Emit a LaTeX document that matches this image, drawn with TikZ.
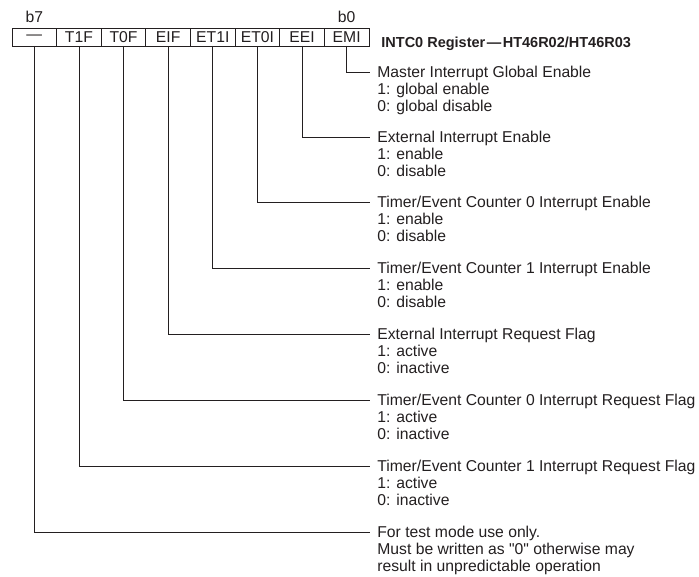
\documentclass[tikz,border=0pt]{standalone}
\usepackage{fontspec}
\newfontfamily\regfont{Liberation Sans}
\usetikzlibrary{positioning}
\definecolor{ink}{RGB}{35,31,32}
\newcommand\linegap{\rule{0pt}{16.5pt}}
\newcommand\txtsize{\regfont\fontsize{15.7}{16.5}\selectfont}

\begin{document}
\begin{tikzpicture}[x=1pt,y=-1pt,line width=0.8pt,draw=ink,text=ink,
  cell/.style={draw,minimum width=44.625pt,minimum height=18pt,inner sep=0pt,outer sep=0pt,font=\txtsize},
  bitno/.style={inner sep=0pt,text depth=0pt,font=\txtsize},
  head/.style={inner sep=0pt,anchor=base west,font=\regfont\fontsize{14.5}{16}\selectfont\bfseries},
  title/.style={anchor=west,inner xsep=7pt,inner ysep=0pt,text height=11pt,text depth=0pt,font=\txtsize},
  sub/.style={anchor=north west,inner xsep=7pt,inner ysep=0pt,align=left,font=\txtsize}]
\useasboundingbox (0,0) rectangle (699,577);

% register bits
\node[cell] (c7) at (34.3,37) {—};
\node[cell,right=0pt of c7] (c6) {T1F};
\node[cell,right=0pt of c6] (c5) {T0F};
\node[cell,right=0pt of c5] (c4) {EIF};
\node[cell,right=0pt of c4] (c3) {ET1I};
\node[cell,right=0pt of c3] (c2) {ET0I};
\node[cell,right=0pt of c2] (c1) {EEI};
\node[cell,right=0pt of c1] (c0) {EMI};
\node[bitno,above=5pt of c7] (b7) {b7};
\node[bitno,above=5pt of c0] (b0) {b0};
\node[head] (hd) at (381,47.5) {INTC0 Register\kern1.5pt—\kern1.5pt HT46R02/HT46R03};

% bit descriptions
\node[title] (t0) at (370,72) {Master Interrupt Global Enable};
\node[sub] (s0) at (t0.south west) {\linegap 1: global enable\\0: global disable};
\node[title] (t1) at (370,137) {External Interrupt Enable};
\node[sub] (s1) at (t1.south west) {\linegap 1: enable\\0: disable};
\node[title] (t2) at (370,202) {Timer/Event Counter 0 Interrupt Enable};
\node[sub] (s2) at (t2.south west) {\linegap 1: enable\\0: disable};
\node[title] (t3) at (370,268) {Timer/Event Counter 1 Interrupt Enable};
\node[sub] (s3) at (t3.south west) {\linegap 1: enable\\0: disable};
\node[title] (t4) at (370,334) {External Interrupt Request Flag};
\node[sub] (s4) at (t4.south west) {\linegap 1: active\\0: inactive};
\node[title] (t5) at (370,400) {Timer/Event Counter 0 Interrupt Request Flag};
\node[sub] (s5) at (t5.south west) {\linegap 1: active\\0: inactive};
\node[title] (t6) at (370,466) {Timer/Event Counter 1 Interrupt Request Flag};
\node[sub] (s6) at (t6.south west) {\linegap 1: active\\0: inactive};
\node[title] (t7) at (370,532) {For test mode use only.};
\node[sub] (s7) at (t7.south west) {\linegap Must be written as "0" otherwise may\\result in unpredictable operation};

% leaders
\draw (c0.south) |- (t0.west);
\draw (c1.south) |- (t1.west);
\draw (c2.south) |- (t2.west);
\draw (c3.south) |- (t3.west);
\draw (c4.south) |- (t4.west);
\draw (c5.south) |- (t5.west);
\draw (c6.south) |- (t6.west);
\draw (c7.south) |- (t7.west);
\end{tikzpicture}
\end{document}
